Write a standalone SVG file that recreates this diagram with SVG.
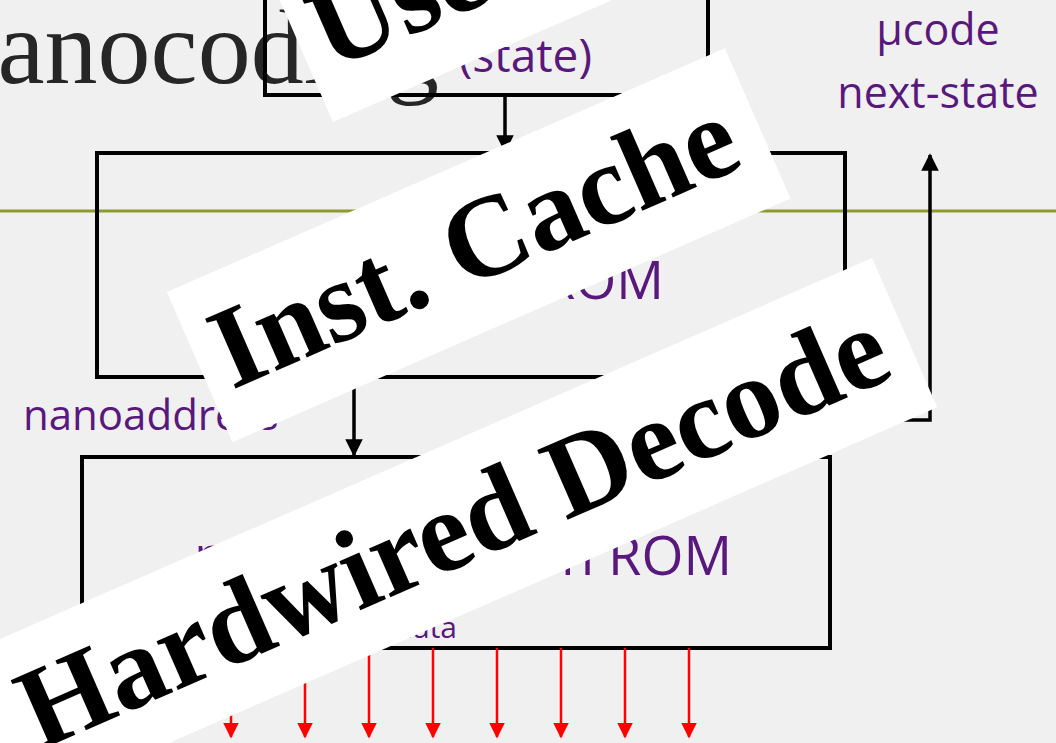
<svg xmlns="http://www.w3.org/2000/svg" width="1056" height="743" viewBox="0 0 1056 743">
<style>
.box{fill:none;stroke:#000;stroke-width:4}
.wire{fill:none;stroke:#000;stroke-width:3.5}
.red{fill:none;stroke:#ff0000;stroke-width:2.5}
.lbl{font-family:"Open Sans","Noto Sans",sans-serif;fill:#58187c}
.ban{fill:#fff}
.bt{font-family:"Liberation Serif","Times New Roman",serif;font-weight:bold;font-size:116px;fill:#000}
.title{font-family:"Liberation Serif","Times New Roman",serif;font-size:106px;fill:#262626}
</style>
<defs>
<marker id="ah" markerWidth="5" markerHeight="5" refX="4.5" refY="2.5" orient="auto" markerUnits="strokeWidth">
<path d="M0,0 L5,2.5 L0,5 Z" fill="#000"/>
</marker>
<marker id="ahr" markerWidth="6.4" markerHeight="6.4" refX="5.8" refY="3.2" orient="auto" markerUnits="strokeWidth">
<path d="M0,0 L6.4,3.2 L0,6.4 Z" fill="#ff0000"/>
</marker>
</defs>
<rect width="1056" height="743" fill="#f0f0f0"/>
<line x1="0" y1="211" x2="1056" y2="211" stroke="#8c9c2b" stroke-width="3"/>
<text class="title" x="-79" y="83">Nanocoding</text>

<g id="state-box">
<rect class="box" x="265" y="-20" width="443" height="115"/>
<text class="lbl" x="592" y="72" font-size="46" text-anchor="end">(state)</text>
</g>
<g id="ucode-rom">
<rect class="box" x="97" y="153" width="748" height="224"/>
<text class="lbl" x="664" y="299" font-size="53" text-anchor="end">ROM</text>
</g>
<g id="nano-rom">
<rect class="box" x="82" y="457" width="748" height="191"/>
<text class="lbl" x="732" y="575" font-size="54" text-anchor="end">nanoinstruction ROM</text>
<text class="lbl" x="457" y="638" font-size="30" text-anchor="end">data</text>
</g>
<g id="labels">
<text class="lbl" x="938" y="45" font-size="43" text-anchor="middle">µcode</text>
<text class="lbl" x="938" y="108" font-size="43" text-anchor="middle">next-state</text>
<text class="lbl" x="23" y="430" font-size="42">nanoaddress</text>
</g>
<g id="connectors">
<line class="wire" x1="505" y1="95" x2="505" y2="151" marker-end="url(#ah)"/>
<line class="wire" x1="354" y1="377" x2="354" y2="455" marker-end="url(#ah)"/>
<polyline class="wire" points="880,420 930,420 930,155" marker-end="url(#ah)"/>
<line class="red" x1="231" y1="648" x2="231" y2="737" marker-end="url(#ahr)"/>
<line class="red" x1="305" y1="648" x2="305" y2="737" marker-end="url(#ahr)"/>
<line class="red" x1="369" y1="648" x2="369" y2="737" marker-end="url(#ahr)"/>
<line class="red" x1="433" y1="648" x2="433" y2="737" marker-end="url(#ahr)"/>
<line class="red" x1="497" y1="648" x2="497" y2="737" marker-end="url(#ahr)"/>
<line class="red" x1="561" y1="648" x2="561" y2="737" marker-end="url(#ahr)"/>
<line class="red" x1="625" y1="648" x2="625" y2="737" marker-end="url(#ahr)"/>
<line class="red" x1="689" y1="648" x2="689" y2="737" marker-end="url(#ahr)"/>
</g>
<g id="banner-use" transform="translate(333,122) rotate(-23.6)">
<rect class="ban" x="0" y="-158" width="700" height="158"/>
<text class="bt" x="18" y="-48">Use</text>
</g>
<g id="banner-cache" transform="translate(477.5,242.5) rotate(-23.6)">
<rect class="ban" x="-304.5" y="-79" width="609" height="164"/>
<text class="bt" x="-284" y="37">Inst. Cache</text>
</g>
<g id="banner-decode" transform="translate(872,258) rotate(-23.6)">
<rect class="ban" x="-1100" y="0" width="1100" height="163"/>
<text class="bt" x="-25" y="118" text-anchor="end">Hardwired Decode</text>
</g>
</svg>
